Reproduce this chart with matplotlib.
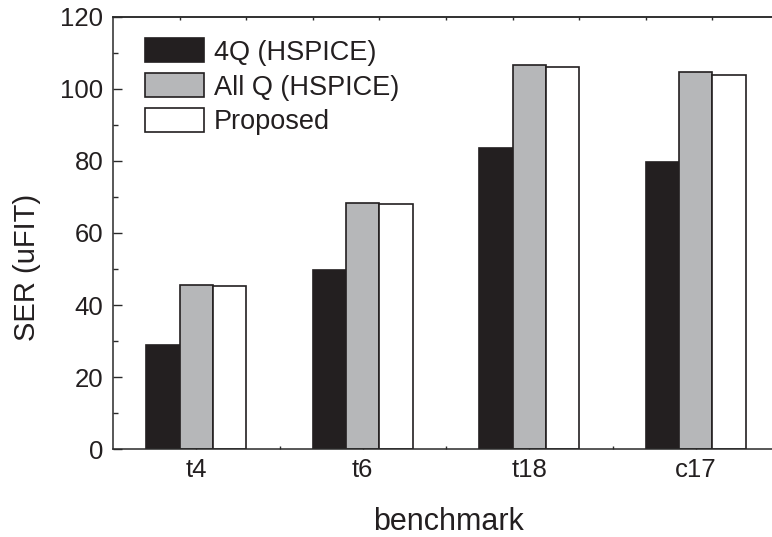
import matplotlib
matplotlib.use("Agg")
import matplotlib.pyplot as plt
from matplotlib.patches import Patch
from matplotlib.ticker import MultipleLocator, FixedLocator
import numpy as np

plt.rcParams['font.family'] = ['Liberation Sans', 'DejaVu Sans']

categories = ["t4", "t6", "t18", "c17"]
series_names = ["4Q (HSPICE)", "All Q (HSPICE)", "Proposed"]
q4_hspice = [29.0, 49.8, 83.5, 79.8]
allq_hspice = [45.7, 68.4, 106.7, 104.6]
proposed = [45.2, 68.0, 106.0, 103.9]
yticks = [0, 20, 40, 60, 80, 100, 120]

colors = ["#231f20", "#b6b7b9", "#ffffff"]
edge = "#231f20"

fig = plt.figure(figsize=(7.72, 5.37), dpi=100)
# axes: left 113px, right 779px (cut by the figure), top 16.7px, bottom 449.3px
ax = fig.add_axes([113/772, (537-449.3)/537, 666/772, 432.6/537])

x = np.arange(1, len(categories) + 1)
w = 0.2
for i, (vals, c) in enumerate(zip([q4_hspice, allq_hspice, proposed], colors)):
    ax.bar(x + (i - 1) * w, vals, width=w, color=c, edgecolor=edge, linewidth=1.2,
           label=series_names[i], zorder=2)

ax.set_xlim(0.5, 4.5)
ax.set_ylim(0, 120)
ax.set_xticks(x)
ax.set_xticklabels(categories)
ax.xaxis.set_minor_locator(FixedLocator([1.5, 2.5, 3.5]))
ax.set_yticks(yticks)
ax.yaxis.set_minor_locator(MultipleLocator(10))

for s in ax.spines.values():
    s.set_linewidth(1.1)
    s.set_color("#2a2a2a")
ax.spines['right'].set_visible(False)

ax.tick_params(axis='y', which='major', direction='in', length=6.5, width=1.0,
               labelsize=18.5, pad=7, color="#2a2a2a", labelcolor="#231f20")
ax.tick_params(axis='y', which='minor', direction='in', length=3.6, width=1.0, color="#2a2a2a")
ax.tick_params(axis='x', which='major', direction='in', length=3, width=1.0,
               labelsize=18.5, pad=6, color="#2a2a2a", labelcolor="#231f20")
ax.tick_params(axis='x', which='minor', direction='in', length=2.5, width=1.0, color="#2a2a2a")

top = ax.secondary_xaxis('top')
top.set_xticks(np.arange(0.9, 4.5, 0.4))
top.set_xticklabels([])
top.tick_params(direction='in', length=2.5, width=1.0, color="#2a2a2a")
top.spines['top'].set_linewidth(1.1)
top.spines['top'].set_color("#2a2a2a")

handles = [Patch(facecolor=c, edgecolor=edge, linewidth=1.2) for c in colors]
fs = 19.5
fs_px = fs * 100 / 72
leg = ax.legend(handles, series_names, loc='upper left',
                bbox_to_anchor=(32/666, 1 - (38.3 - 16.7)/432.6),
                frameon=False, fontsize=fs, borderpad=0, borderaxespad=0,
                handlelength=59/fs_px, handleheight=27/fs_px,
                labelspacing=(34.5 - 27)/fs_px, handletextpad=10/fs_px)
for t in leg.get_texts():
    t.set_color("#231f20")

fig.text(27/772, 1 - 267/537, "SER (uFIT)", rotation=90, ha='center', va='center',
         fontsize=21, color="#231f20")
fig.text(448/772, 7.5/537, "benchmark", ha='center', va='baseline',
         fontsize=22, color="#231f20")

fig.savefig("out.png", dpi=100)
